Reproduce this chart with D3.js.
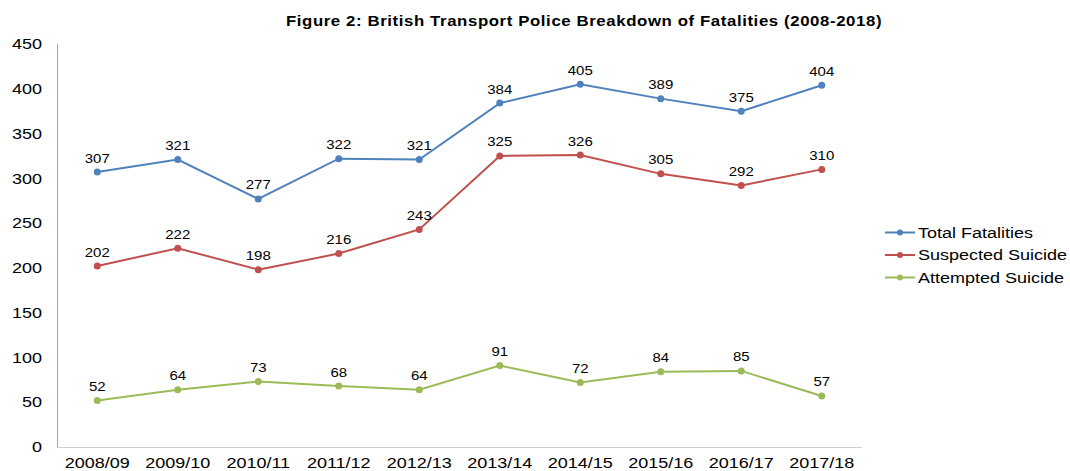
<!DOCTYPE html>
<html>
<head>
<meta charset="utf-8">
<script src="https://cdn.jsdelivr.net/npm/d3@7"></script>
<style>
  body { margin: 0; background: #fff; }
  text { font-family: "Liberation Sans", Arial, sans-serif; fill: #000; }
</style>
</head>
<body>
<div id="chart"></div>
<script>
var years = ["2008/09", "2009/10", "2010/11", "2011/12", "2012/13", "2013/14", "2014/15", "2015/16", "2016/17", "2017/18"];
var totalFatalities = [307, 321, 277, 322, 321, 384, 405, 389, 375, 404];
var suspectedSuicide = [202, 222, 198, 216, 243, 325, 326, 305, 292, 310];
var attemptedSuicide = [52, 64, 73, 68, 64, 91, 72, 84, 85, 57];
var yTicks = [0, 50, 100, 150, 200, 250, 300, 350, 400, 450];
var seriesNames = ["Total Fatalities", "Suspected Suicide", "Attempted Suicide"];
var palette = ["#4f81bd", "#c0504d", "#9bbb59"];

var width = 1070, height = 471;
var stretch = 1.2; // the picture is a bit wider than tall, text looks stretched

var series = [totalFatalities, suspectedSuicide, attemptedSuicide].map(function (vals, i) {
    return { name: seriesNames[i], color: palette[i], values: vals };
});

var x = d3.scalePoint()
    .domain(years)
    .range([57, 862])
    .padding(0.5);
var y = d3.scaleLinear()
    .domain([0, 450])
    .range([447, 44]);

var svg = d3.select("#chart").append("svg")
    .attr("width", width)
    .attr("height", height);

// places a text at (px, py) with horizontal stretch
function putText(sel, px, py) {
    sel.attr("transform", function (d, i) {
        return "translate(" + px(d, i) + "," + py(d, i) + ") scale(" + stretch + ",1)";
    });
}

// title
svg.append("text")
    .text("Figure 2: British Transport Police Breakdown of Fatalities (2008-2018)")
    .attr("text-anchor", "middle")
    .attr("transform", "translate(584,26) scale(" + stretch + ",1)")
    .style("font-size", "14px")
    .style("letter-spacing", "0.5px")
    .style("font-weight", "bold");

// axes lines
svg.append("line")
    .attr("x1", 57.5).attr("x2", 57.5)
    .attr("y1", y(450)).attr("y2", y(0))
    .attr("stroke", "#a6a6a6");
svg.append("line")
    .attr("x1", 57).attr("x2", 862)
    .attr("y1", y(0) + 0.5).attr("y2", y(0) + 0.5)
    .attr("stroke", "#d0d0d0");

// y tick labels
svg.append("g").selectAll("text")
    .data(yTicks)
    .enter().append("text")
    .text(d => d)
    .attr("text-anchor", "end")
    .attr("dy", "0.35em")
    .style("font-size", "15px")
    .call(putText, d => 42, d => y(d));

// x tick labels
svg.append("g").selectAll("text")
    .data(years)
    .enter().append("text")
    .text(d => d)
    .attr("text-anchor", "middle")
    .style("font-size", "15px")
    .call(putText, d => x(d), d => 468);

var line = d3.line()
    .x((d, i) => x(years[i]))
    .y(d => y(d));

var groups = svg.selectAll(".series")
    .data(series)
    .enter().append("g")
    .attr("class", "series");

groups.append("path")
    .attr("d", d => line(d.values))
    .attr("fill", "none")
    .attr("stroke", d => d.color)
    .attr("stroke-width", 2);

groups.each(function (s) {
    var g = d3.select(this);
    g.selectAll("circle")
        .data(s.values)
        .enter().append("circle")
        .attr("cx", (d, i) => x(years[i]))
        .attr("cy", d => y(d))
        .attr("r", 3.5)
        .attr("fill", s.color);

    g.selectAll(".label")
        .data(s.values)
        .enter().append("text")
        .attr("class", "label")
        .text(d => d)
        .attr("text-anchor", "middle")
        .style("font-size", "12.5px")
        .call(putText, (d, i) => x(years[i]), d => y(d) - 9.5);
});

// legend
var legend = svg.selectAll(".legend")
    .data(series)
    .enter().append("g")
    .attr("class", "legend")
    .attr("transform", (d, i) => "translate(885," + (232.5 + i * 22.5) + ")");

legend.append("line")
    .attr("x1", 0).attr("x2", 30)
    .attr("stroke", d => d.color)
    .attr("stroke-width", 2);
legend.append("circle")
    .attr("cx", 15)
    .attr("r", 3)
    .attr("fill", d => d.color);
legend.append("text")
    .text(d => d.name)
    .attr("dy", "0.35em")
    .style("font-size", "15px")
    .call(putText, d => 33, d => 0);
</script>
</body>
</html>
